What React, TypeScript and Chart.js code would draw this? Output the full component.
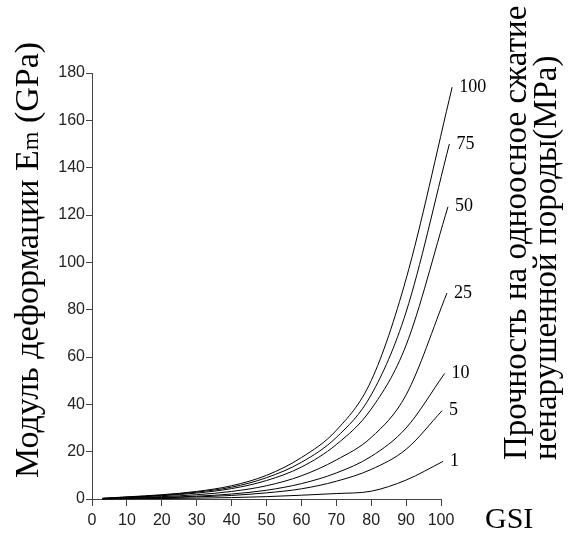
import React, { useEffect, useRef } from 'react';
import { Chart, registerables } from 'chart.js';

Chart.register(...registerables);

// GSI values where the curves were read
const gsiPoints = [3, 10, 20, 30, 40, 50, 60, 70, 80, 90];
// uniaxial compressive strength of intact rock (MPa) – curve labels
const strengthLabels = ['100', '75', '50', '25', '10', '5', '1'];
// deformation modulus Em (GPa)
const em100 = [0.3, 0.9, 1.8, 3.2, 5.6, 10, 17.5, 29, 50, 93];
const em75 = [0.25, 0.8, 1.6, 2.9, 5.0, 9, 15.5, 26, 44, 79];
const em50 = [0.2, 0.7, 1.4, 2.5, 4.4, 7.8, 13.5, 23, 38, 65];
const em25 = [0.15, 0.5, 1.0, 1.8, 3.2, 5.6, 9.8, 16.5, 26, 44];
const em10 = [0.1, 0.35, 0.7, 1.2, 2.1, 3.7, 6.5, 11, 18, 30];
const em5 = [0.08, 0.25, 0.5, 0.9, 1.5, 2.6, 4.3, 7.5, 12.5, 21];
const em1 = [0.05, 0.1, 0.2, 0.35, 0.6, 1.0, 1.6, 2.3, 3.3, 8.0];
// last drawn point of every curve
const endGsi = [103.2, 102.4, 102, 101.7, 101, 100.3, 100.6];
const endEm = [174, 150, 123.5, 87, 53, 37.3, 15.9];

const xTicks = [0, 10, 20, 30, 40, 50, 60, 70, 80, 90, 100];
const yTicks = [0, 20, 40, 60, 80, 100, 120, 140, 160, 180];

const yTitleMain = 'Модуль деформации E';
const yTitleSub = 'm';
const yTitleEnd = ' (GPa)';
const rightTitle1 = 'Прочность на одноосное сжатие';
const rightTitle2 = 'ненарушенной породы(MPa)';
const xTitle = 'GSI';

const series = [em100, em75, em50, em25, em10, em5, em1];

const SERIF = "'Liberation Serif', serif";
const TICKFONT = "'Liberation Sans', sans-serif";

const fontStr = (size: number) => `${Math.round(size)}px ${SERIF}`;

export default function App() {
  const ref = useRef<HTMLCanvasElement>(null);

  useEffect(() => {
    if (!ref.current) return;
    const datasets = series.map((vals, i) => ({
      label: strengthLabels[i],
      data: [
        ...gsiPoints.map((g, j) => ({ x: g, y: vals[j] })),
        { x: endGsi[i], y: endEm[i] },
      ],
      borderColor: '#000',
      borderWidth: 1,
      pointRadius: 0,
      fill: false,
      cubicInterpolationMode: 'monotone' as const,
      clip: false as any,
    }));

    const titlesPlugin = {
      id: 'titles',
      afterDraw(chart: any) {
        const ctx: CanvasRenderingContext2D = chart.ctx;
        ctx.save();
        ctx.fillStyle = '#000';
        ctx.textAlign = 'left';

        // curve labels at the end of every curve
        ctx.font = fontStr(18);
        ctx.textBaseline = 'middle';
        chart.data.datasets.forEach((ds: any, i: number) => {
          const meta = chart.getDatasetMeta(i);
          const p = meta.data[meta.data.length - 1];
          ctx.fillText(ds.label, p.x + 7, p.y);
        });

        ctx.textBaseline = 'alphabetic';
        // y title (rotated, reading upward)
        const fs = 34;
        ctx.save();
        ctx.translate(38, 478);
        ctx.rotate(-Math.PI / 2);
        ctx.font = fontStr(fs);
        const w1 = ctx.measureText(yTitleMain).width;
        ctx.fillText(yTitleMain, 0, 0);
        ctx.font = fontStr(fs * 0.7);
        const w2 = ctx.measureText(yTitleSub).width;
        ctx.fillText(yTitleSub, w1, 0);
        ctx.font = fontStr(fs);
        ctx.fillText(yTitleEnd, w1 + w2, 0);
        ctx.restore();

        // right title, two lines
        ctx.font = fontStr(33);
        ctx.save();
        ctx.translate(526, 460);
        ctx.rotate(-Math.PI / 2);
        ctx.fillText(rightTitle1, 0, 0);
        ctx.restore();
        ctx.save();
        ctx.translate(556, 460);
        ctx.rotate(-Math.PI / 2);
        ctx.fillText(rightTitle2, 0, 0);
        ctx.restore();

        // x title
        ctx.font = fontStr(30);
        ctx.fillText(xTitle, 485, 528);
        ctx.restore();
      },
    };

    const chart = new Chart(ref.current, {
      type: 'line',
      data: { datasets },
      plugins: [titlesPlugin],
      options: {
        animation: false,
        responsive: false,
        devicePixelRatio: 1,
        layout: { padding: { top: 73, right: 127, left: 0, bottom: 0 } },
        plugins: { legend: { display: false }, tooltip: { enabled: false }, title: { display: false } },
        scales: {
          x: {
            type: 'linear',
            min: 0,
            max: 100,
            afterFit: (s: any) => { s.height = 37; },
            afterBuildTicks: (s: any) => { s.ticks = xTicks.map((v) => ({ value: v })); },
            border: { display: true, color: '#444', width: 1 },
            grid: { display: true, drawOnChartArea: false, drawTicks: true, tickLength: 7, color: '#444' },
            ticks: { color: '#222', padding: 5, maxRotation: 0, autoSkip: false, font: { family: TICKFONT, size: 16 } },
          },
          y: {
            type: 'linear',
            min: 0,
            max: 180,
            afterFit: (s: any) => { s.width = 92; },
            afterBuildTicks: (s: any) => { s.ticks = yTicks.map((v) => ({ value: v })); },
            border: { display: true, color: '#444', width: 1 },
            grid: { display: true, drawOnChartArea: false, drawTicks: true, tickLength: 6, color: '#444' },
            ticks: { color: '#222', padding: 1, autoSkip: false, font: { family: TICKFONT, size: 16 } },
          },
        },
      },
    });
    return () => chart.destroy();
  }, []);

  return (
    <div style={{ position: 'absolute', left: 0, top: 0, width: 568, height: 536, background: '#fff' }}>
      <canvas ref={ref} width={568} height={536} style={{ width: 568, height: 536, display: 'block' }} />
    </div>
  );
}
